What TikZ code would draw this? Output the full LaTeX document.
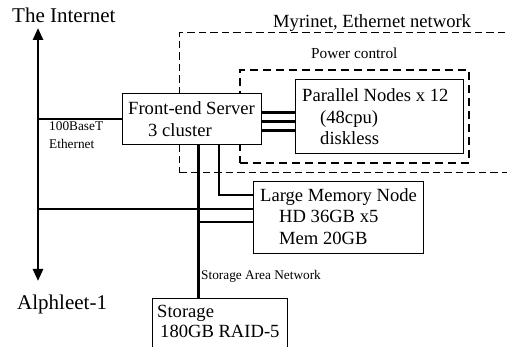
\documentclass[tikz,border=0pt]{standalone}
\usepackage{fontspec}
\setmainfont{Liberation Serif}
\usetikzlibrary{calc,arrows.meta}

\begin{document}
\begin{tikzpicture}[x=1pt,y=-1pt,
  box/.style={draw, fill=white, line width=0.9pt, inner sep=0pt, anchor=north west},
  txt/.style={inner sep=0pt, anchor=base west, font=\fontsize{18.6}{21.5}\selectfont},
  bigtxt/.style={inner sep=0pt, anchor=base west, font=\fontsize{21}{24}\selectfont},
  smalltxt/.style={inner sep=0pt, anchor=base west, font=\fontsize{13.3}{18}\selectfont},
  midtxt/.style={inner sep=0pt, anchor=base west, font=\fontsize{15.3}{18}\selectfont},
  netzone/.style={draw, line width=1.4pt, dash pattern=on 7.5pt off 4pt, inner sep=0pt, anchor=north west},
  pwrzone/.style={draw, line width=1.9pt, dash pattern=on 8pt off 5pt, inner sep=0pt, anchor=north west},
  wire/.style={line width=2.2pt},
  thickwire/.style={line width=3pt}]

\clip (0,0) rectangle (507,347);

% dashed network regions
\node[netzone, minimum width=340pt, minimum height=140pt] (myri) at (179,32) {};
\node[pwrzone, minimum width=229pt, minimum height=93pt] (pwr) at (239,69) {};
\node[txt] (myrilab) at (273,28) {Myrinet, Ethernet network};
\node[midtxt] (pwrlab) at (311,59) {Power control};

% backbone arrow
\coordinate (inet) at (38,28);
\coordinate (alph) at (38,281);
\draw[line width=2.6pt, {Triangle[width=10pt,length=12pt]}-{Triangle[width=10pt,length=12pt]}] (alph) -- (inet);
\node[bigtxt] (inetlab) at (12,23) {The Internet};
\node[bigtxt] (alphlab) at (17,310) {Alphleet-1};

% machines
\node[box, minimum width=139pt, minimum height=51pt] (fe) at (122,93) {};
\node[box, minimum width=168pt, minimum height=74pt] (pn) at (295,79) {};
\node[box, minimum width=170pt, minimum height=72pt] (lm) at (253,181) {};
\node[box, minimum width=135pt, minimum height=60pt] (st) at (152,298) {};

\node[txt] (fe1) at (128,115) {Front-end Server};
\node[txt] (fe2) at (148,137) {3 cluster};
\node[txt] (pn1) at (302,102) {Parallel Nodes x 12};
\node[txt] (pn2) at (320,124) {(48cpu)};
\node[txt] (pn3) at (320,145) {diskless};
\node[txt] (lm1) at (260,202) {Large Memory Node};
\node[txt] (lm2) at (279,223) {HD 36GB x5};
\node[txt] (lm3) at (279,245) {Mem 20GB};
\node[txt] (st1) at (157,318) {Storage};
\node[txt] (st2) at (160,338) {180GB RAID-5};

\node[smalltxt] (eth1) at (49,131) {100BaseT};
\node[smalltxt] (eth2) at (49,149) {Ethernet};
\node[smalltxt] (sanlab) at (201,280) {Storage Area Network};

% Ethernet uplink
\draw[wire] (inet |- fe.west) -- (fe.west);

% Myrinet links to the parallel nodes
\coordinate (m1) at ($(fe.east)+(0,-6.5)$);
\coordinate (m2) at ($(fe.east)+(0,2.5)$);
\coordinate (m3) at ($(fe.east)+(0,11.5)$);
\draw[wire] (m1) -- (pn.west |- m1);
\draw[wire] (m2) -- (pn.west |- m2);
\draw[wire] (m3) -- (pn.west |- m3);

% storage area network trunk
\coordinate (san) at ($(fe.south west)+(76,0)$);
\draw[thickwire] (san) -- (san |- st.north);

% large memory node links
\coordinate (fel) at ($(fe.south west)+(97,0)$);
\coordinate (lmA) at ($(lm.north west)+(0,14)$);
\coordinate (lmB) at ($(lm.north west)+(0,28)$);
\coordinate (lmC) at ($(lm.north west)+(0,41)$);
\draw[wire] (fel) |- (lmA);
\draw[wire] (inet |- lmB) -- (lmB);
\draw[wire] (san |- lmC) -- (lmC);

\end{tikzpicture}
\end{document}
